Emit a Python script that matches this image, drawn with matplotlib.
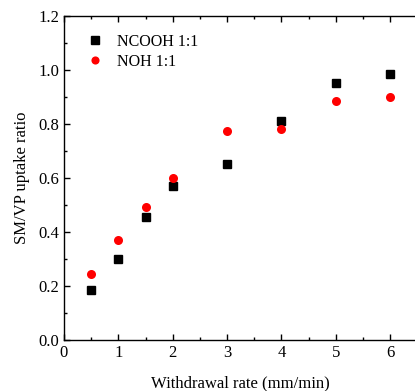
import matplotlib
matplotlib.use("Agg")
import matplotlib.pyplot as plt
from matplotlib.ticker import MultipleLocator

plt.rcParams['font.family'] = ['Liberation Serif', 'DejaVu Serif']

x = [0.5, 1, 1.5, 2, 3, 4, 5, 6]
ncooh = [0.185, 0.30, 0.455, 0.572, 0.652, 0.81, 0.952, 0.985]
noh = [0.244, 0.37, 0.493, 0.60, 0.774, 0.781, 0.885, 0.90]

fig = plt.figure(figsize=(4.15, 3.91), dpi=100)
ax = fig.add_axes([0.154, 0.130, 0.852, 0.829])
ax.plot(x, ncooh, 's', color='black', markersize=6, label='NCOOH 1:1', clip_on=False)
ax.plot(x, noh, 'o', color='red', markersize=6.5, markeredgewidth=0, label='NOH 1:1', clip_on=False)

ax.set_xlim(0, 6.5)
ax.set_ylim(0, 1.2)
ax.xaxis.set_major_locator(MultipleLocator(1))
ax.xaxis.set_minor_locator(MultipleLocator(0.5))
ax.yaxis.set_major_locator(MultipleLocator(0.2))
ax.yaxis.set_minor_locator(MultipleLocator(0.1))
ax.yaxis.set_major_formatter(matplotlib.ticker.FormatStrFormatter('%.1f'))
ax.tick_params(axis='both', which='major', direction='out', length=4, width=1, labelsize=12)
ax.tick_params(axis='both', which='minor', direction='out', length=2.5, width=1)
ax.tick_params(top=True, which='both', direction='in')
ax.tick_params(axis='x', which='both', bottom=True)
for s in ax.spines.values():
    s.set_linewidth(1)
ax.spines['right'].set_visible(False)

ax.set_xlabel('Withdrawal rate (mm/min)', fontsize=12, labelpad=10)
ax.set_ylabel('SM/VP uptake ratio', fontsize=12, labelpad=6)

ax.legend(loc='upper left', frameon=False, fontsize=11.5, handletextpad=0.8,
          bbox_to_anchor=(0.02, 0.99), labelspacing=0.25, handlelength=1.2,
          markerscale=0.9)

fig.savefig('out.png', dpi=100)
